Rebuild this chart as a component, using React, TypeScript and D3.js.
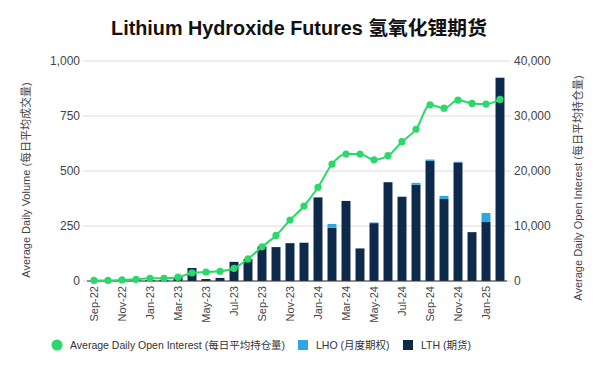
import * as d3 from "d3";

const months = [
  "Sep-22", "Oct-22", "Nov-22", "Dec-22", "Jan-23", "Feb-23", "Mar-23", "Apr-23", "May-23", "Jun-23",
  "Jul-23", "Aug-23", "Sep-23", "Oct-23", "Nov-23", "Dec-23", "Jan-24", "Feb-24", "Mar-24", "Apr-24",
  "May-24", "Jun-24", "Jul-24", "Aug-24", "Sep-24", "Oct-24", "Nov-24", "Dec-24", "Jan-25", "Feb-25",
];
const lth = [
  0, 0, 1, 3, 4, 5, 18, 59, 9, 14,
  87, 100, 157, 154, 172, 174, 380, 242, 364, 148,
  263, 449, 383, 438, 546, 373, 539, 222, 268, 924,
];
const lho = [
  0, 0, 0, 0, 0, 0, 0, 0, 0, 0,
  0, 0, 0, 0, 0, 0, 0, 17, 0, 0,
  3, 0, 0, 8, 6, 14, 3, 0, 41, 0,
];
const openInterest = [
  100, 100, 200, 300, 500, 500, 700, 1460, 1640, 1770,
  2310, 4020, 6210, 8280, 11080, 13640, 17050, 21250, 23080, 23080,
  22050, 22780, 25330, 27590, 32030, 31420, 32890, 32280, 32160, 33010,
];
const volTicks = [0, 250, 500, 750, 1000];
const oiTicks = [0, 10000, 20000, 30000, 40000];

const W = 602, H = 371;
const left = 87, right = 507, top = 61, bottom = 281;
const navy = "#0e2a4a", blue = "#2ea6e0", green = "#2bd96b";
const font = "'Liberation Sans', 'Noto Sans CJK SC', Arial, sans-serif";

export default function App() {
  const x = d3.scaleBand<string>().domain(months).range([left, right]).paddingInner(0.36).paddingOuter(0.18);
  const yV = d3.scaleLinear().domain([0, 1000]).range([bottom, top]);
  const yO = d3.scaleLinear().domain([0, 40000]).range([bottom, top]);
  const cx = (m: string) => (x(m) ?? 0) + x.bandwidth() / 2;
  const line = d3.line<number>()
    .x((_, i) => cx(months[i]))
    .y((d) => yO(d))
    .curve(d3.curveMonotoneX);
  const fmt = d3.format(",");

  return (
    <svg width={W} height={H} style={{ position: "absolute", left: 0, top: 0, background: "#fff" }} fontFamily={font}>
      <text x={299} y={35} textAnchor="middle" fontSize={19.8} fontWeight="bold" fill="#111">
        Lithium Hydroxide Futures 氢氧化锂期货
      </text>

      {volTicks.map((t) => (
        <g key={"v" + t}>
          <line x1={left} x2={right} y1={yV(t)} y2={yV(t)} stroke="#dcdcdc" strokeWidth={1} />
          <line x1={left - 4} x2={left} y1={yV(t)} y2={yV(t)} stroke="#dcdcdc" />
          <text x={left - 7} y={yV(t)} dy="0.35em" textAnchor="end" fontSize={12} fill="#444">{fmt(t)}</text>
        </g>
      ))}
      {oiTicks.map((t) => (
        <g key={"o" + t}>
          <line x1={right} x2={right + 4} y1={yO(t)} y2={yO(t)} stroke="#dcdcdc" />
          <text x={right + 7} y={yO(t)} dy="0.35em" textAnchor="start" fontSize={12} fill="#444">{fmt(t)}</text>
        </g>
      ))}

      {months.map((m, i) => (
        <g key={m}>
          <rect x={x(m)} width={x.bandwidth()} y={yV(lth[i])} height={bottom - yV(lth[i])} fill={navy} />
          {lho[i] > 0 && (
            <rect x={x(m)} width={x.bandwidth()} y={yV(lth[i] + lho[i])} height={yV(lth[i]) - yV(lth[i] + lho[i])} fill={blue} />
          )}
        </g>
      ))}

      <line x1={left} x2={right} y1={bottom} y2={bottom} stroke="#333" strokeWidth={1} />

      <path d={line(openInterest) ?? ""} fill="none" stroke={green} strokeWidth={2} />
      {openInterest.map((d, i) => (
        <circle key={"p" + i} cx={cx(months[i])} cy={yO(d)} r={3.6} fill={green} />
      ))}

      {months.map((m, i) =>
        i % 2 === 0 ? (
          <text key={"l" + m} transform={`translate(${cx(m)},${bottom + 5}) rotate(-90)`} dy="0.35em" textAnchor="end" fontSize={11} fill="#444">
            {m}
          </text>
        ) : null
      )}

      <text transform={`translate(26,180) rotate(-90)`} dy="0.35em" textAnchor="middle" fontSize={11} fill="#444">
        Average Daily Volume (每日平均成交量)
      </text>
      <text transform={`translate(578,188) rotate(-90)`} dy="0.35em" textAnchor="middle" fontSize={11} fill="#444">
        Average Daily Open Interest (每日平均持仓量)
      </text>

      <g fontSize={10.5} fill="#333">
        <circle cx={57} cy={345} r={5.5} fill={green} />
        <text x={70} y={345} dy="0.35em">Average Daily Open Interest (每日平均持仓量)</text>
        <rect x={298} y={340} width={10} height={10} fill={blue} />
        <text x={316} y={345} dy="0.35em">LHO (月度期权)</text>
        <rect x={403} y={340} width={10} height={10} fill={navy} />
        <text x={421} y={345} dy="0.35em">LTH (期货)</text>
      </g>
    </svg>
  );
}
